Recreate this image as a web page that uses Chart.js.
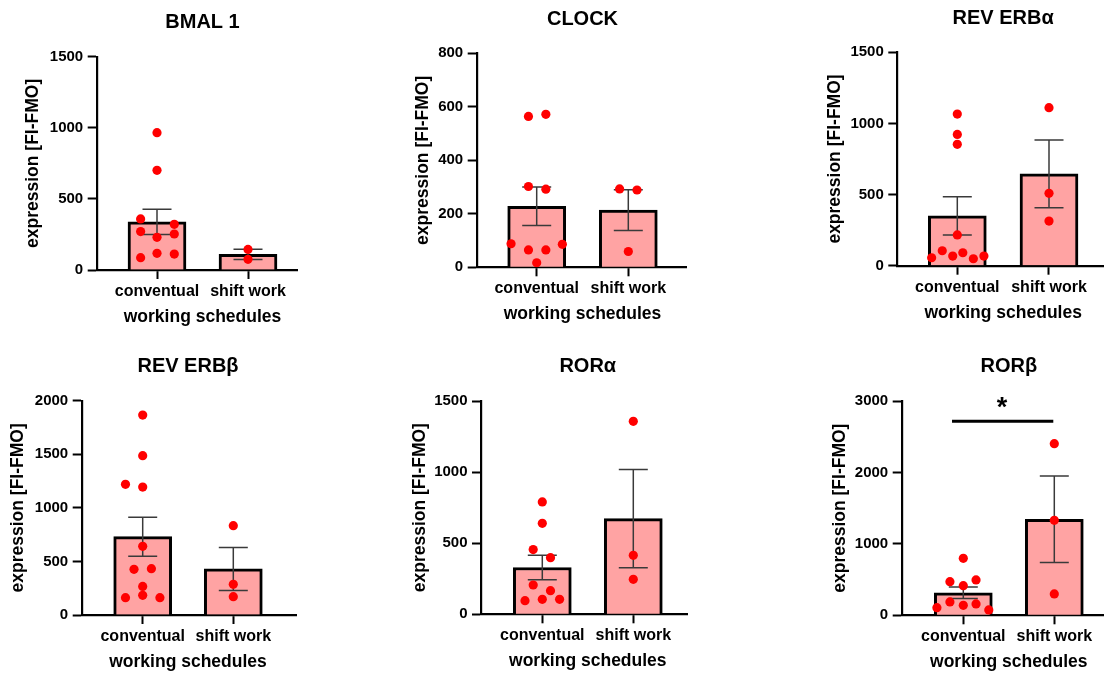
<!DOCTYPE html>
<html><head><meta charset="utf-8">
<script src="https://cdn.jsdelivr.net/npm/chart.js@4.4.1/dist/chart.umd.min.js"></script>
<style>
html,body{margin:0;padding:0;width:1104px;height:673px;overflow:hidden;background:#fff;}
canvas{position:absolute;}
</style></head><body>
<script>
// ---------- DATA ----------
const categories = ['conventual', 'shift work'];
const xAxisTitle = 'working schedules';
const yAxisTitle = 'expression [FI-FMO]';
const panelTitles = ['BMAL 1', 'CLOCK', 'REV ERBα', 'REV ERBβ', 'RORα', 'RORβ'];
const yTickMax = [1500, 800, 1500, 2000, 1500, 3000];
const yTickStep = [500, 200, 500, 500, 500, 1000];

// bar heights (group means) and SEM
const bmal1Mean = [339, 110];   const bmal1Sem = [89, 36];
const clockMean = [228, 214];   const clockSem = [72, 76];
const revErbAMean = [350, 645]; const revErbASem = [134, 238];
const revErbBMean = [731, 430]; const revErbBSem = [182, 201];
const rorAMean = [329, 673];    const rorASem = [86, 345];
const rorBMean = [316, 1344];   const rorBSem = [80, 605];

// individual values
const bmal1Conv = [966, 701, 359, 270, 321, 230, 253, 87, 117, 112];
const bmal1Shift = [145, 75];
const clockConv = [564, 572, 302, 292, 88, 65, 65, 86, 17];
const clockShift = [293, 289, 59];
const revErbAConv = [1066, 923, 853, 216, 56, 105, 68, 91, 49, 68];
const revErbAShift = [1111, 509, 314];
const revErbBConv = [1866, 1487, 1220, 1194, 641, 426, 432, 267, 184, 162, 162];
const revErbBShift = [834, 286, 171];
const rorAConv = [790, 640, 455, 398, 206, 166, 105, 96, 105];
const rorAShift = [1357, 415, 246];
const rorBConv = [798, 471, 415, 495, 187, 140, 159, 107, 75];
const rorBShift = [2403, 1330, 299];

// significance annotation (RORβ)
const rorBSigValue = 2716;
const rorBSigLabel = '*';

// ---------- LAYOUT (pixels / offsets, not data) ----------
const jitter = {
  bmal1Conv: [0, 0, -0.18, -0.18, 0.19, 0, 0.19, -0.18, 0, 0.19],
  bmal1Shift: [0, 0],
  clockConv: [-0.09, 0.1, -0.09, 0.1, -0.28, -0.09, 0.1, 0.28, 0],
  clockShift: [-0.095, 0.095, 0],
  revErbAConv: [0, 0, 0, 0, -0.28, -0.164, -0.05, 0.06, 0.175, 0.29],
  revErbAShift: [0, 0, 0],
  revErbBConv: [0, 0, -0.19, 0, 0, -0.096, 0.096, 0, 0, -0.19, 0.19],
  revErbBShift: [0, 0, 0],
  rorAConv: [0, 0, -0.1, 0.09, -0.1, 0.09, 0, -0.19, 0.19],
  rorAShift: [0, 0, 0],
  rorBConv: [0, -0.147, 0, 0.14, -0.147, 0, 0.14, -0.29, 0.28],
  rorBShift: [0, 0, 0]
};
const geom = [
  {axisX: 96.7,  top: 56.7,  bottom: 270,   right: 297,   c0: 157,   c1: 248,   T: 0,   yOff: 63.7},
  {axisX: 476.7, top: 53.3,  bottom: 267.3, right: 686.7, c0: 536.7, c1: 628.3, T: 0,   yOff: 53.4},
  {axisX: 897.3, top: 52.3,  bottom: 265.7, right: 1103,  c0: 957.3, c1: 1049,  T: 0,   yOff: 62.3},
  {axisX: 81.7,  top: 400.7, bottom: 615,   right: 296,   c0: 142.7, c1: 233.3, T: 336, yOff: 63.4},
  {axisX: 481,   top: 401,   bottom: 614.3, right: 687,   c0: 542.3, c1: 633.3, T: 336, yOff: 61},
  {axisX: 901.7, top: 401,   bottom: 615.3, right: 1103,  c0: 963.3, c1: 1054.3,T: 336, yOff: 61.7}
];
const FONT = "'Liberation Sans', Arial, sans-serif";
Chart.defaults.font.family = FONT;
Chart.defaults.font.weight = 'bold';
Chart.defaults.color = '#000';

const panelText = {
  id: 'panelText',
  afterDraw(chart, args, o) {
    const {ctx, chartArea, scales: {x, y}} = chart;
    const mid = (x.getPixelForValue(0) + x.getPixelForValue(1)) / 2;
    ctx.save();
    ctx.fillStyle = '#000';
    ctx.textAlign = 'center';
    ctx.textBaseline = 'middle';
    ctx.font = 'bold 20px ' + FONT;
    ctx.fillText(o.title, mid, chartArea.top - 34.2);
    ctx.font = 'bold 17.5px ' + FONT;
    ctx.fillText(xAxisTitle, mid, chartArea.bottom + 47);
    if (o.star) {
      ctx.font = 'bold 27px ' + FONT;
      ctx.textBaseline = 'alphabetic';
      ctx.fillText(o.star.text, x.getPixelForValue(o.star.x), y.getPixelForValue(o.star.y) + 14);
    }
    ctx.restore();
  }
};

function makePanel(i, mean, sem, groups, cols, extra) {
  const g = geom[i];
  const unit = g.c1 - g.c0;
  const xmin = (g.axisX - g.c0) / unit, xmax = (g.right - g.c0) / unit;
  const L = Math.round(g.axisX - 80), yw = g.axisX - L;
  const T = g.T;
  const W = Math.ceil(g.right - L + 12), H = Math.ceil(g.bottom - T + 64);
  const cv = document.createElement('canvas');
  cv.width = W; cv.height = H;
  cv.style.left = L + 'px'; cv.style.top = T + 'px';
  document.body.appendChild(cv);
  const cap = 14.5 / unit;

  const pts = [];
  groups.forEach((arr, gi) => arr.forEach((v, k) => pts.push({x: gi + cols[gi][k], y: v})));
  const datasets = [];
  datasets.push({type: 'scatter', data: pts, backgroundColor: '#ff0000', pointBackgroundColor: '#ff0000',
    borderWidth: 0, pointBorderWidth: 0, pointRadius: 4.6, order: 0});
  mean.forEach((m, gi) => {
    const hi = m + sem[gi], lo = m - sem[gi];
    datasets.push({type: 'line', data: [{x: gi - cap, y: hi}, {x: gi + cap, y: hi}, {x: gi, y: hi}, {x: gi, y: lo},
      {x: gi - cap, y: lo}, {x: gi + cap, y: lo}], borderColor: '#3a3a3a', borderWidth: 1.5,
      pointRadius: 0, fill: false, tension: 0, order: 1});
  });
  if (extra && extra.sig) {
    datasets.push({type: 'line', data: [{x: extra.sig.x0, y: extra.sig.y}, {x: extra.sig.x1, y: extra.sig.y}],
      borderColor: '#000', borderWidth: 3, pointRadius: 0, fill: false, order: 1});
  }
  datasets.push({type: 'bar', data: mean.map((m, gi) => ({x: gi, y: m})), backgroundColor: '#ffa3a3',
    borderColor: '#000', borderWidth: 3, barThickness: 58, order: 2});

  new Chart(cv, {
    type: 'bar',
    data: {datasets},
    plugins: [panelText],
    options: {
      responsive: false, animation: false, events: [],
      layout: {padding: {left: 0, top: g.top - T, right: W - (g.right - L), bottom: H - (g.bottom - T) - 60}},
      plugins: {legend: {display: false}, tooltip: {enabled: false}, title: {display: false},
        panelText: {title: panelTitles[i], star: extra && extra.star}},
      scales: {
        x: {type: 'linear', min: xmin, max: xmax, offset: false, bounds: 'data',
          afterBuildTicks(s) { s.ticks = [{value: 0}, {value: 1}]; },
          ticks: {callback: (v) => categories[v] ?? '', font: {size: 16, weight: 'bold'}, color: '#000',
            padding: 3, maxRotation: 0, autoSkip: false},
          grid: {offset: false, drawOnChartArea: false, drawTicks: true, tickLength: 9, tickWidth: 2, tickColor: '#000'},
          border: {display: true, color: '#000', width: 2.2},
          afterFit(s) { s.height = 60; }
        },
        y: {min: 0, max: yTickMax[i], bounds: 'data',
          ticks: {stepSize: yTickStep[i], callback: (v) => String(v), font: {size: 15, weight: 'bold'},
            color: '#000', padding: 4.5},
          grid: {offset: false, drawOnChartArea: false, drawTicks: true, tickLength: 9, tickWidth: 2, tickColor: '#000'},
          border: {display: true, color: '#000', width: 2.2},
          title: {display: true, text: yAxisTitle, font: {size: 17.5, weight: 'bold'}, color: '#000',
            padding: {top: 69.5 - g.yOff, bottom: 0}},
          afterFit(s) { s.width = yw; }
        }
      }
    }
  });
}

makePanel(0, bmal1Mean, bmal1Sem, [bmal1Conv, bmal1Shift], [jitter.bmal1Conv, jitter.bmal1Shift]);
makePanel(1, clockMean, clockSem, [clockConv, clockShift], [jitter.clockConv, jitter.clockShift]);
makePanel(2, revErbAMean, revErbASem, [revErbAConv, revErbAShift], [jitter.revErbAConv, jitter.revErbAShift]);
makePanel(3, revErbBMean, revErbBSem, [revErbBConv, revErbBShift], [jitter.revErbBConv, jitter.revErbBShift]);
makePanel(4, rorAMean, rorASem, [rorAConv, rorAShift], [jitter.rorAConv, jitter.rorAShift]);
makePanel(5, rorBMean, rorBSem, [rorBConv, rorBShift], [jitter.rorBConv, jitter.rorBShift],
  {sig: {x0: -0.124, x1: 0.989, y: rorBSigValue}, star: {text: rorBSigLabel, x: 0.425, y: 2990}});
</script>
</body></html>
